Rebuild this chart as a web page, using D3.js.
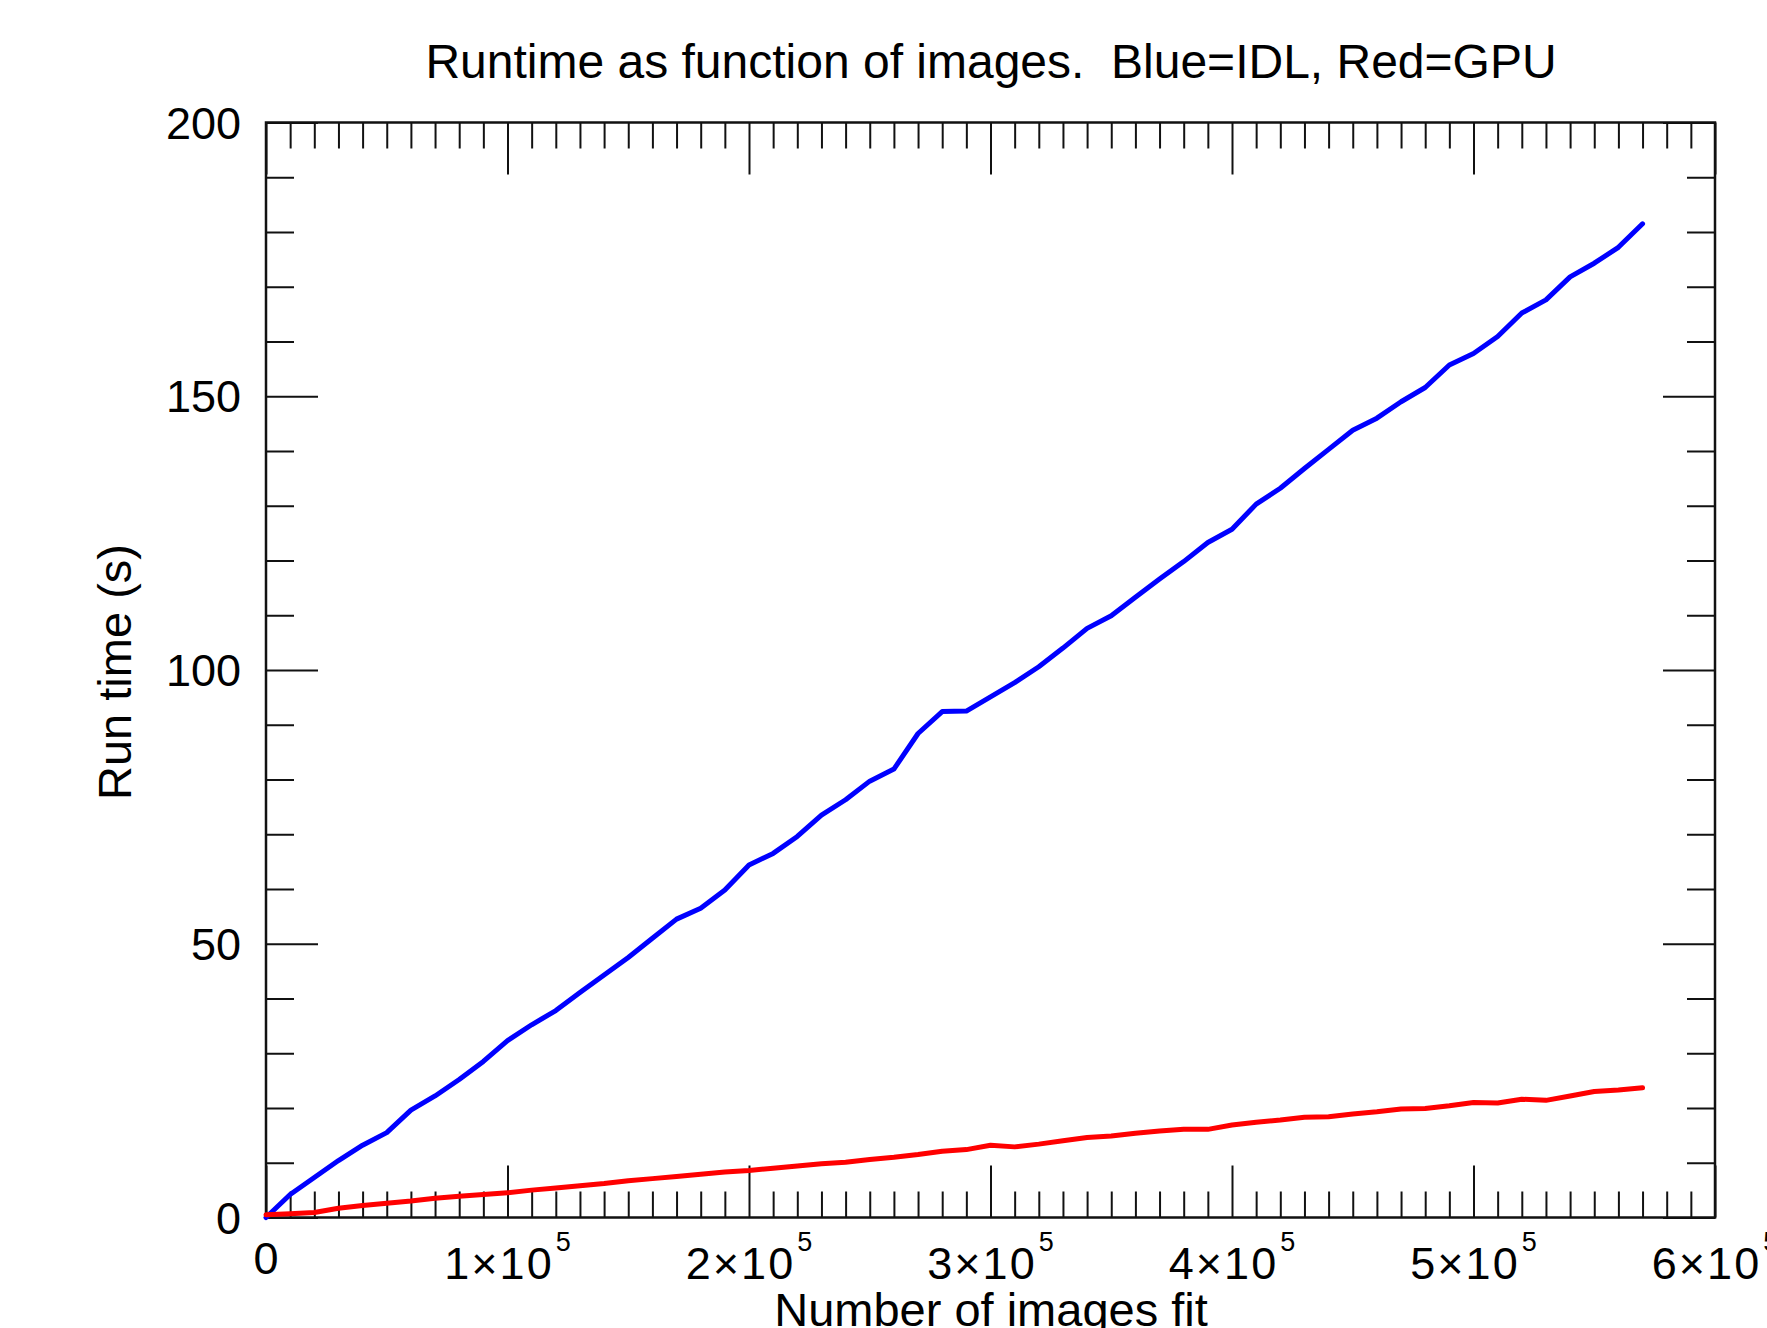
<!DOCTYPE html>
<html>
<head>
<meta charset="utf-8">
<script src="https://cdn.jsdelivr.net/npm/d3@7"></script>
<style>
  body { margin: 0; background: #fff; }
  svg { display: block; font-family: "Liberation Sans", Arial, Helvetica, sans-serif; }
  text { white-space: pre; }
</style>
</head>
<body>
<svg id="chart" width="1767" height="1328"></svg>
<script>
// number of images fit, in thousands
const imagesK = [0, 10, 20, 30, 40, 50, 60, 70, 80, 90,
  100, 110, 120, 130, 140, 150, 160, 170, 180, 190,
  200, 210, 220, 230, 240, 250, 260, 270, 280, 290,
  300, 310, 320, 330, 340, 350, 360, 370, 380, 390,
  400, 410, 420, 430, 440, 450, 460, 470, 480, 490,
  500, 510, 520, 530, 540, 550, 560, 570]

// run time in seconds, IDL (blue)
const idlTime = [0, 4.2, 7.3, 10.4, 13.2, 15.5, 19.6, 22.2, 25.2, 28.5,
  32.3, 35.2, 37.8, 41.1, 44.3, 47.5, 51.0, 54.5, 56.5, 59.8,
  64.4, 66.5, 69.6, 73.5, 76.3, 79.7, 81.9, 88.4, 92.4, 92.5,
  95.1, 97.7, 100.6, 104.0, 107.6, 109.9, 113.3, 116.6, 119.8, 123.3,
  125.7, 130.3, 133.2, 136.8, 140.3, 143.8, 146.0, 149.0, 151.6, 155.7,
  157.8, 160.9, 165.2, 167.6, 171.8, 174.3, 177.2, 181.5]

// run time in seconds, GPU (red)
const gpuTime = [0.5, 0.7, 0.9, 1.7, 2.2, 2.6, 3.0, 3.5, 3.9, 4.2,
  4.5, 5.0, 5.4, 5.8, 6.2, 6.7, 7.1, 7.5, 7.9, 8.3,
  8.6, 9.0, 9.4, 9.8, 10.1, 10.6, 11.0, 11.5, 12.1, 12.4,
  13.2, 12.9, 13.4, 14.0, 14.6, 14.9, 15.4, 15.8, 16.1, 16.1,
  16.9, 17.4, 17.8, 18.3, 18.4, 18.9, 19.3, 19.8, 19.9, 20.4,
  21.0, 20.9, 21.6, 21.4, 22.2, 23.0, 23.3, 23.7]

const xMajorTicks = [0, 1e5, 2e5, 3e5, 4e5, 5e5, 6e5]
const xTickLabels = ['0', '1', '2', '3', '4', '5', '6']
const yMajorTicks = [0, 50, 100, 150, 200]
const yTickLabels = ['0', '50', '100', '150', '200']

const titleText = 'Runtime as function of images.  Blue=IDL, Red=GPU'
const xTitle = 'Number of images fit'
const yTitle = 'Run time (s)'

const svg = d3.select('#chart')
const plotLeft = 266, plotRight = 1715, plotTop = 122.5, plotBottom = 1217.5
const majorLen = 52, minorLen = 26

const x = d3.scaleLinear().domain([0, 6e5]).range([plotLeft, plotRight])
const y = d3.scaleLinear().domain([0, 200]).range([plotBottom, plotTop])

const xMinor = d3.range(0, 6e5 + 1, 1e4).filter(v => v % 1e5 !== 0)
const yMinor = d3.range(0, 201, 10).filter(v => v % 50 !== 0)

// draw an axis with inward ticks, no labels
function ticks(axisFn, scale, values, len, tx, ty) {
    const g = svg.append('g')
        .attr('transform', `translate(${tx},${ty})`)
        .call(axisFn(scale).tickValues(values).tickSize(-len).tickSizeOuter(0).tickFormat(''))
    g.select('.domain').remove()
    g.selectAll('line').attr('stroke', '#111').attr('stroke-width', 2)
}

ticks(d3.axisBottom, x, xMinor, minorLen, 0, plotBottom)
ticks(d3.axisBottom, x, xMajorTicks, majorLen, 0, plotBottom)
ticks(d3.axisTop, x, xMinor, minorLen, 0, plotTop)
ticks(d3.axisTop, x, xMajorTicks, majorLen, 0, plotTop)
ticks(d3.axisLeft, y, yMinor, minorLen + 2, plotLeft, 0)
ticks(d3.axisLeft, y, yMajorTicks, majorLen, plotLeft, 0)
ticks(d3.axisRight, y, yMinor, minorLen + 2, plotRight, 0)
ticks(d3.axisRight, y, yMajorTicks, majorLen, plotRight, 0)

// frame
svg.append('rect')
    .attr('x', plotLeft).attr('y', plotTop)
    .attr('width', plotRight - plotLeft).attr('height', plotBottom - plotTop)
    .attr('fill', 'none').attr('stroke', '#111').attr('stroke-width', 2.5)

// data lines
const idlData = imagesK.map((k, i) => ({ n: k * 1000, t: idlTime[i] }))
const gpuData = imagesK.map((k, i) => ({ n: k * 1000, t: gpuTime[i] }))
const line = d3.line().x(d => x(d.n)).y(d => y(d.t))

svg.append('path').datum(idlData)
    .attr('d', line).attr('fill', 'none')
    .attr('stroke', '#0000ff').attr('stroke-width', 5)
    .attr('stroke-linejoin', 'round').attr('stroke-linecap', 'round')

svg.append('path').datum(gpuData)
    .attr('d', line).attr('fill', 'none')
    .attr('stroke', '#ff0000').attr('stroke-width', 5)
    .attr('stroke-linejoin', 'round').attr('stroke-linecap', 'round')

// y tick labels
svg.selectAll('.ylab').data(yMajorTicks).enter().append('text')
    .attr('class', 'ylab')
    .attr('x', 241).attr('y', d => y(d))
    .attr('dy', '0.36em')
    .attr('text-anchor', 'end')
    .attr('font-size', 45)
    .text((d, i) => yTickLabels[i])

// x tick labels, with exponent
const xl = svg.selectAll('.xlab').data(xMajorTicks).enter().append('text')
    .attr('class', 'xlab')
    .attr('x', d => x(d))
    .attr('y', d => d === 0 ? 1274 : 1279)
    .attr('text-anchor', 'middle')
    .attr('font-size', 45)
xl.each(function (d, i) {
    const t = d3.select(this)
    if (d === 0) { t.text(xTickLabels[i]); return }
    t.append('tspan').attr('letter-spacing', 2).text(xTickLabels[i] + '\u00d710')
    t.append('tspan').attr('dy', -28).attr('dx', 2).attr('font-size', 27).text('5')
})

// titles
svg.append('text')
    .attr('x', 991).attr('y', 78)
    .attr('text-anchor', 'middle')
    .attr('font-size', 48)
    .text(titleText)

svg.append('text')
    .attr('x', 991).attr('y', 1326)
    .attr('text-anchor', 'middle')
    .attr('font-size', 47)
    .text(xTitle)

svg.append('text')
    .attr('transform', 'translate(131,672) rotate(-90)')
    .attr('text-anchor', 'middle')
    .attr('font-size', 47)
    .text(yTitle)
</script>
</body>
</html>
